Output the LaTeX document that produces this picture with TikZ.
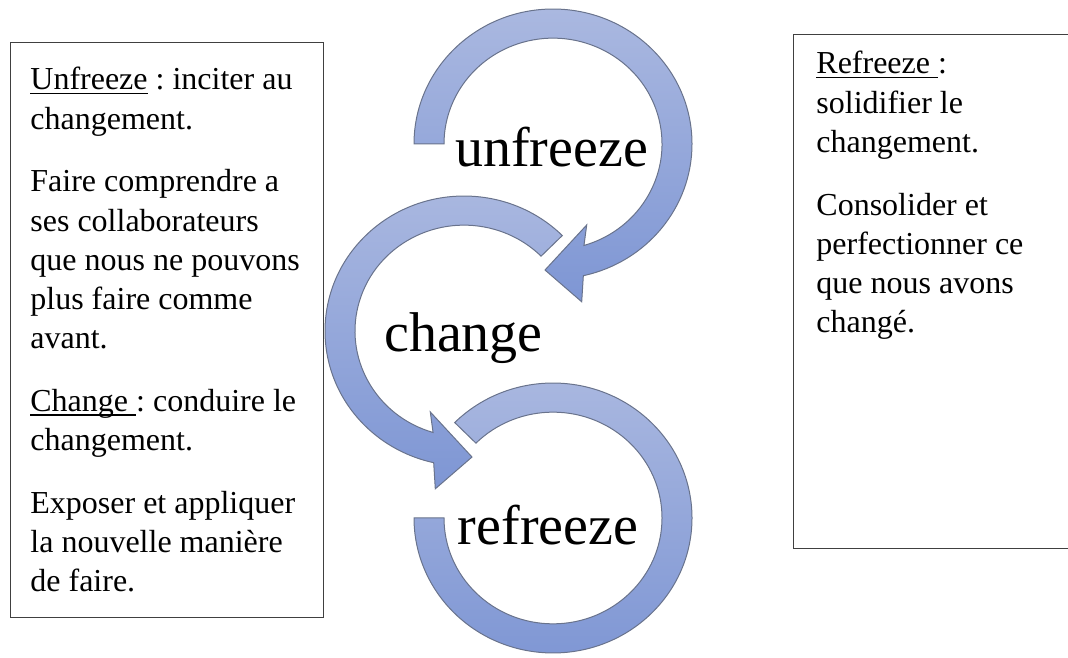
\documentclass[tikz,border=0pt]{standalone}
\usepackage{fontspec}
\setmainfont{Liberation Serif}
\frenchspacing
\definecolor{ringtop}{RGB}{170,184,224}
\definecolor{ringbottom}{RGB}{126,150,212}
\definecolor{ringline}{RGB}{105,115,140}
\definecolor{boxline}{RGB}{64,64,64}
% underline at a fixed depth below the baseline, whatever the letters
\newcommand{\uln}[1]{\setbox0=\hbox{#1}\rlap{\rule[-2.2pt]{\wd0}{0.75pt}}\box0\relax}
\begin{document}
\begin{tikzpicture}[x=0.5pt,y=0.5pt,
  frame/.style={draw=boxline, line width=0.6pt, fill=white, inner sep=0pt, anchor=north west},
  ring/.style={draw=ringline, line width=0.5pt, top color=ringtop, bottom color=ringbottom},
  body/.style={inner sep=0pt, anchor=base west, font=\fontsize{16}{19.6}\selectfont},
  stage/.style={inner sep=0pt, anchor=base, font=\fontsize{28}{30}\selectfont}]
\useasboundingbox (0,0) rectangle (1068,657);

% text boxes
\node[frame, minimum width=156.5pt, minimum height=287.5pt] (leftbox) at (10,615) {};
\node[frame, minimum width=140pt, minimum height=257pt] (rightbox) at (793,623) {};

\node[body] (lefttext) at (30,567) {\vtop{\baselineskip=19.6pt
  \hbox{\uln{Unfreeze} : inciter au}
  \hbox{changement.}
  \vskip 11.75pt
  \hbox{Faire comprendre a}
  \hbox{ses collaborateurs}
  \hbox{que nous ne pouvons}
  \hbox{plus faire comme}
  \hbox{avant.}
  \vskip 11.75pt
  \hbox{\uln{Change }: conduire le}
  \hbox{changement.}
  \vskip 11.75pt
  \hbox{Exposer et appliquer}
  \hbox{la nouvelle manière}
  \hbox{de faire.}}};

\node[body] (righttext) at (816,583) {\vtop{\baselineskip=19.6pt
  \hbox{\uln{Refreeze }:}
  \hbox{solidifier le}
  \hbox{changement.}
  \vskip 11.75pt
  \hbox{Consolider et}
  \hbox{perfectionner ce}
  \hbox{que nous avons}
  \hbox{changé.}}};

% unfreeze: clockwise ring from the left, head near the bottom
\begin{scope}[shift={(553,513)}, yscale=0.971]
  \shadedraw[ring] (180:139) arc[start angle=180, end angle=-77.4, radius=139]
    -- (28.7,-162.5) -- (-8,-129.8) -- (33.7,-83.4)
    -- (-73.5:109) arc[start angle=-73.5, end angle=180, radius=109] -- cycle;
\end{scope}

% change: counter-clockwise ring from the upper right, head near the bottom
\begin{scope}[shift={(464,326)}, yscale=0.971]
  \shadedraw[ring] (45:139) arc[start angle=45, end angle=257.4, radius=139]
    -- (-28.7,-162.5) -- (8,-129.8) -- (-33.7,-83.4)
    -- (253.5:109) arc[start angle=253.5, end angle=45, radius=109] -- cycle;
\end{scope}

% refreeze: open ring without a head
\begin{scope}[shift={(553,139)}, yscale=0.971]
  \shadedraw[ring] (135:139) arc[start angle=135, end angle=-180, radius=139]
    -- (180:109) arc[start angle=-180, end angle=135, radius=109] -- cycle;
\end{scope}

% stage labels
\node[stage] (unfreeze) at (551.5,490) {unfreeze};
\node[stage] (change) at (463.5,305) {change};
\node[stage] (refreeze) at (548,112) {refreeze};
\end{tikzpicture}
\end{document}
